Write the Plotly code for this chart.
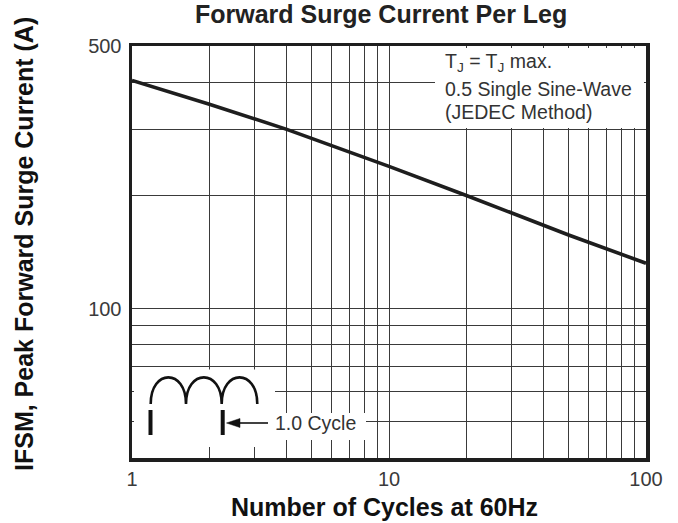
import plotly.graph_objects as go

# ---- data ----
cycles = [1, 2, 4, 10, 20, 50, 100]
surge_current = [405, 350, 300, 239, 200, 157, 132]

x_tickvals = [1, 2, 3, 4, 5, 6, 7, 8, 9, 10, 20, 30, 40, 50, 60, 70, 80, 90, 100]
x_ticktext = ["1", "", "", "", "", "", "", "", "", "10", "", "", "", "", "", "", "", "", "100"]
y_tickvals = [50, 60, 70, 80, 90, 100, 200, 300, 400, 500]
y_ticktext = ["", "", "", "", "", "100", "", "", "", "500"]

title_text = "Forward Surge Current Per Leg"
x_title = "Number of Cycles at 60Hz"
y_title = "IFSM, Peak Forward Surge Current (A)"
note_lines = ["T<sub>J</sub> = T<sub>J</sub> max.", "0.5 Single Sine-Wave", "(JEDEC Method)"]
cycle_label = "1.0 Cycle"

# ---- layout geometry (window pixels) ----
W, H = 678, 523
L, R, T, B = 132, 646, 46, 458  # plot area in window pixels


def px(xp):
    return (xp - L) / (R - L)


def py(yp):
    return (B - yp) / (B - T)


FONT = "Liberation Sans, Arial, Helvetica, sans-serif"
INK = "#1e1e1e"
GRID = "#3a3a3a"

fig = go.Figure()
fig.add_trace(go.Scatter(
    x=cycles, y=surge_current, mode="lines",
    line=dict(color=INK, width=3.6),
    showlegend=False, hoverinfo="skip",
))

axis_common = dict(
    showline=True, mirror=True, linecolor=INK, linewidth=3.5,
    showgrid=True, gridcolor=GRID, gridwidth=1,
    ticks="", zeroline=False,
    tickfont=dict(family=FONT, size=20, color="#3a3a3a"),
)

fig.update_xaxes(type="log", range=[0, 2], tickmode="array",
                 tickvals=x_tickvals, ticktext=x_ticktext,
                 ticklabelstandoff=0, **axis_common)
fig.update_yaxes(type="log", range=[1.60206, 2.69897], tickmode="array",
                 tickvals=y_tickvals, ticktext=y_ticktext,
                 ticklabelstandoff=3, **axis_common)

shapes = []
# white masks over gridlines
shapes.append(dict(type="rect", xref="paper", yref="paper", layer="above",
                   x0=px(435), x1=px(644), y0=py(128), y1=py(48),
                   fillcolor="white", line=dict(width=0)))
shapes.append(dict(type="rect", xref="paper", yref="paper", layer="above",
                   x0=px(134), x1=px(275), y0=py(447), y1=py(369.5),
                   fillcolor="white", line=dict(width=0)))
shapes.append(dict(type="rect", xref="paper", yref="paper", layer="above",
                   x0=px(275), x1=px(366), y0=py(440), y1=py(413),
                   fillcolor="white", line=dict(width=0)))

# sine humps
ends = [150.7, 186.0, 221.7, 257.3]
yb, yc = 404.0, 368.5
path = ""
for a, b in zip(ends[:-1], ends[1:]):
    path += "M %.5f,%.5f C %.5f,%.5f %.5f,%.5f %.5f,%.5f " % (
        px(a), py(yb), px(a), py(yc), px(b), py(yc), px(b), py(yb))
shapes.append(dict(type="path", xref="paper", yref="paper", layer="above",
                   path=path.strip(), line=dict(color="#111", width=2.6)))

# cycle marker bars
for xb in (150.5, 222.7):
    shapes.append(dict(type="line", xref="paper", yref="paper", layer="above",
                       x0=px(xb), x1=px(xb), y0=py(410), y1=py(435),
                       line=dict(color="#111", width=4)))
# arrow
shapes.append(dict(type="line", xref="paper", yref="paper", layer="above",
                   x0=px(236), x1=px(268), y0=py(423), y1=py(423),
                   line=dict(color="#111", width=1.6)))
shapes.append(dict(type="path", xref="paper", yref="paper", layer="above",
                   path="M %.5f,%.5f L %.5f,%.5f L %.5f,%.5f Z" % (
                       px(226.5), py(423), px(240), py(418.5), px(240), py(427.5)),
                   fillcolor="#111", line=dict(color="#111", width=0.5)))

annotations = []
annotations.append(dict(text="<b>%s</b>" % title_text, xref="paper", yref="paper",
                        x=px(381), y=py(14), xanchor="center", yanchor="middle",
                        showarrow=False, font=dict(family=FONT, size=25, color="#222")))
annotations.append(dict(text="<b>%s</b>" % x_title, xref="paper", yref="paper",
                        x=px(384), y=py(507), xanchor="center", yanchor="middle",
                        showarrow=False, font=dict(family=FONT, size=25, color="#111")))
annotations.append(dict(text="<b>%s</b>" % y_title, xref="paper", yref="paper",
                        x=px(24), y=py(244), xanchor="center", yanchor="middle",
                        textangle=-90, showarrow=False,
                        font=dict(family=FONT, size=25, color="#111")))
for line_text, yline in zip(note_lines, [63, 89, 112]):
    annotations.append(dict(text=line_text, xref="paper", yref="paper",
                            x=px(443), y=py(yline), xanchor="left", yanchor="middle",
                            showarrow=False, font=dict(family=FONT, size=19.5, color="#333")))
annotations.append(dict(text=cycle_label, xref="paper", yref="paper",
                        x=px(273), y=py(423), xanchor="left", yanchor="middle",
                        showarrow=False, font=dict(family=FONT, size=19.5, color="#333")))

fig.update_layout(
    width=W, height=H,
    margin=dict(l=L, r=W - R, t=T, b=H - B, pad=0),
    paper_bgcolor="white", plot_bgcolor="white",
    shapes=shapes, annotations=annotations,
    font=dict(family=FONT),
    hovermode=False,
)

fig.write_html(
    "out.html",
    config={"displayModeBar": False, "staticPlot": True},
    post_script="document.body.style.margin='0';document.body.style.overflow='hidden';",
)
